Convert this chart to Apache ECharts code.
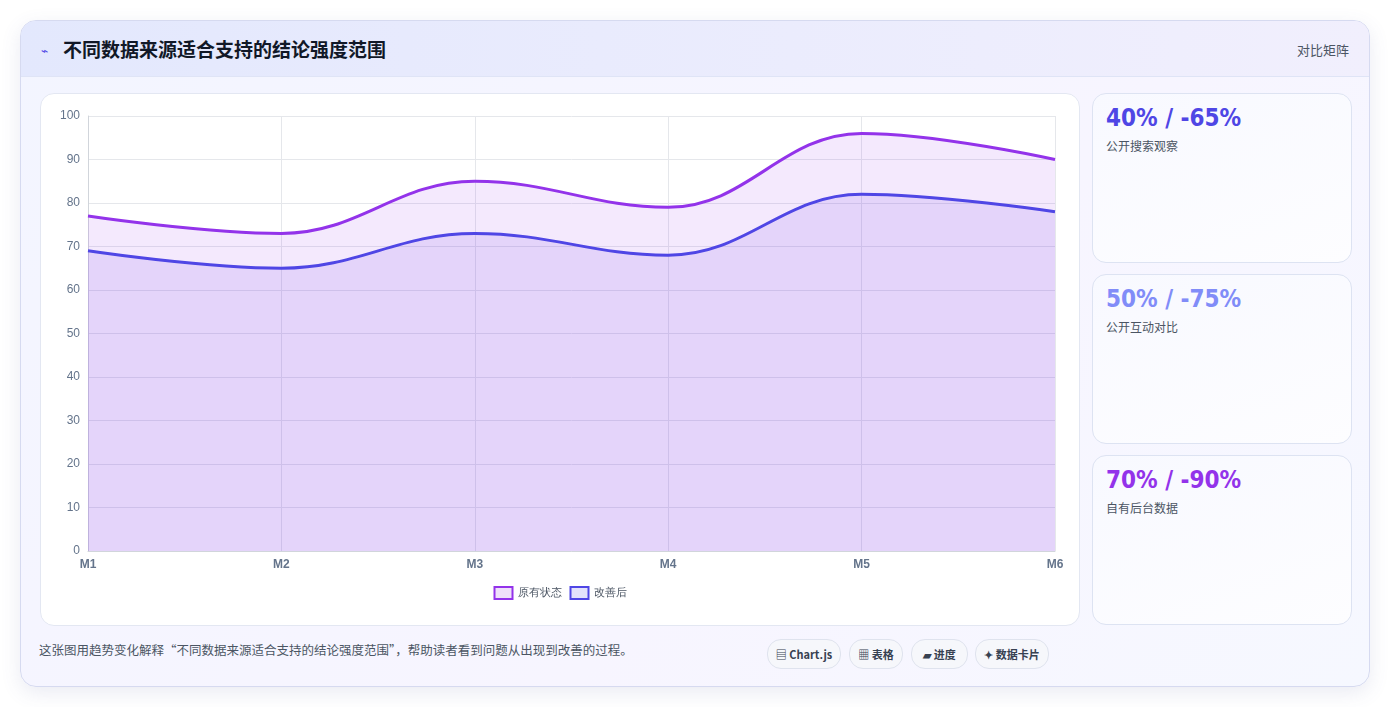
<!DOCTYPE html>
<html><head><meta charset="utf-8">
<script src="https://cdn.jsdelivr.net/npm/echarts@6/dist/echarts.min.js"></script>
<style>
body{margin:0;width:1390px;height:707px;background:#fff;font-family:"Noto Sans CJK SC","Noto Sans",sans-serif;position:relative;overflow:hidden}
.card{position:absolute;left:20px;top:20px;width:1348px;height:665px;border:1px solid #d6daf0;border-radius:16px;background:linear-gradient(135deg,#f3f5ff,#f7f5ff 60%,#f6f8ff);box-shadow:0 6px 20px rgba(80,90,160,.12);overflow:hidden}
.head{position:absolute;left:0;top:0;width:100%;height:55px;background:linear-gradient(90deg,#e3e8fd,#f1effd);border-bottom:1px solid #dfe4f6}
.title{position:absolute;left:42px;top:14px;font-size:19px;font-weight:700;color:#111827}
.icon{position:absolute;left:20px;top:20px;font-size:12px;color:#4f46e5}
.tag{position:absolute;right:20px;top:19px;font-size:13px;color:#4b5563}
#chart{position:absolute;left:19px;top:72px;width:1038px;height:531px;background:#fff;border:1px solid #e3e7f2;border-radius:14px}
.k{position:absolute;left:1071px;width:258px;height:168px;border:1px solid #dde3f2;border-radius:14px;background:linear-gradient(160deg,#f8f9ff,#fdfdff)}
.k .v{position:absolute;left:13px;top:10px;font-size:24px;font-weight:800;font-family:"DejaVu Sans Condensed","DejaVu Sans",sans-serif}
.k .l{position:absolute;left:13px;top:43px;font-size:12px;color:#4b5563}
.foot{position:absolute;left:18px;top:619px;font-size:12.5px;color:#4b5563}
.btn{position:absolute;top:618px;height:28px;border:1px solid #dfe3ee;border-radius:14px;background:#f6f7fb;font-size:11px;font-weight:700;color:#374151;line-height:28px;text-align:center}
</style></head><body>
<div class="card">
<div class="head"><span class="icon">⌁</span><span class="title">不同数据来源适合支持的结论强度范围</span><span class="tag">对比矩阵</span></div>
<div id="chart"></div>
<div class="k" style="top:72px"><div class="v" style="color:#4f46e5">40% / -65%</div><div class="l">公开搜索观察</div></div>
<div class="k" style="top:253px"><div class="v" style="color:#818cf8">50% / -75%</div><div class="l">公开互动对比</div></div>
<div class="k" style="top:434px"><div class="v" style="color:#9333ea">70% / -90%</div><div class="l">自有后台数据</div></div>
<div class="foot">这张图用趋势变化解释“不同数据来源适合支持的结论强度范围”，帮助读者看到问题从出现到改善的过程。</div>
<div class="btn" style="left:746px;width:72px">▤ Chart.js</div>
<div class="btn" style="left:828px;width:52px">▦ 表格</div>
<div class="btn" style="left:890px;width:55px">▰ 进度</div>
<div class="btn" style="left:954px;width:72px">✦ 数据卡片</div>
</div>
<script>
const categories=['M1','M2','M3','M4','M5','M6'];
const before=[77,73,85,79,96,90];
const after=[69,65,73,68,82,78];
const names=['原有状态','改善后'];
const c=echarts.init(document.getElementById('chart'));
c.setOption({
animation:false,
grid:{left:47,right:24,top:22,bottom:74},
legend:{bottom:20,icon:'rect',itemWidth:18,itemHeight:12,itemGap:8,textStyle:{color:'#4b5563',fontSize:11}},
xAxis:{type:'category',data:categories,boundaryGap:false,axisLine:{lineStyle:{color:'#d1d5db'}},axisTick:{show:false},
 axisLabel:{color:'#64748b',fontWeight:'bold',fontSize:12},splitLine:{show:true,lineStyle:{color:'#e5e7eb'}}},
yAxis:{type:'value',min:0,max:100,interval:10,axisLine:{show:true,lineStyle:{color:'#d1d5db'}},axisLabel:{color:'#64748b',fontSize:12},splitLine:{lineStyle:{color:'#e5e7eb'}}},
series:[
{name:names[0],type:'line',data:before,smooth:0.4,symbol:'none',lineStyle:{color:'#9333ea',width:3},itemStyle:{color:'#efe0fa',borderColor:'#9333ea',borderWidth:2.5},areaStyle:{color:'rgba(147,51,234,0.15)'}},
{name:names[1],type:'line',data:after,smooth:0.4,symbol:'none',lineStyle:{color:'#4f46e5',width:3},itemStyle:{color:'#e3e2fb',borderColor:'#4f46e5',borderWidth:2.5},areaStyle:{color:'rgba(110,60,230,0.18)'}}
]});
</script>
</body></html>
